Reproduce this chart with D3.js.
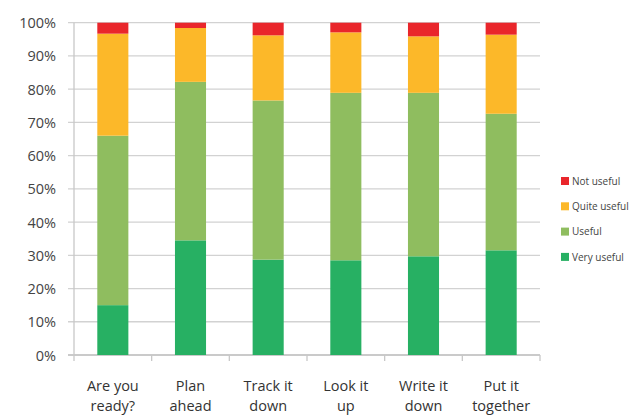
<!DOCTYPE html>
<html><head><meta charset="utf-8">
<script src="https://cdn.jsdelivr.net/npm/d3@7"></script>
<style>body{margin:0;background:#fff}svg{display:block}</style>
</head><body>
<script>
const categories = [["Are you","ready?"],["Plan","ahead"],["Track it","down"],["Look it","up"],["Write it","down"],["Put it","together"]];
const seriesNames = ["Very useful","Useful","Quite useful","Not useful"];
const veryUseful = [15, 34.5, 28.7, 28.5, 29.7, 31.5];
const useful = [51, 47.7, 47.9, 50.4, 49.2, 41.1];
const quiteUseful = [30.7, 16.2, 19.6, 18.2, 17, 23.8];
const notUseful = [3.3, 1.6, 3.8, 2.9, 4.1, 3.6];
const yTicks = [0,0.1,0.2,0.3,0.4,0.5,0.6,0.7,0.8,0.9,1];
const colors = {"Very useful":"#27b063","Useful":"#8fbd5f","Quite useful":"#fcb829","Not useful":"#e9262b"};

const W=643,H=417, mLeft=74, mRight=540, mTop=22.7, mBottom=355;
const svg=d3.select("body").append("svg").attr("width",W).attr("height",H);
const rows = categories.map((c,i)=>({key:i, "Very useful":veryUseful[i], "Useful":useful[i], "Quite useful":quiteUseful[i], "Not useful":notUseful[i]}));
const x=d3.scaleBand().domain(d3.range(categories.length)).range([mLeft,mRight]).paddingInner(0.6).paddingOuter(0.3);
const xb=d3.scaleBand().domain(d3.range(categories.length)).range([mLeft,mRight]);
const y=d3.scaleLinear().domain([0,1]).range([mBottom,mTop]);

// gridlines
svg.append("g").selectAll("line").data(yTicks).join("line")
 .attr("x1",mLeft-6).attr("x2",mRight).attr("y1",d=>y(d)).attr("y2",d=>y(d))
 .attr("stroke",d=>d===0?"#b8b8b8":"#d2d2d2").attr("stroke-width",1.3);
// y labels
svg.append("g").selectAll("text").data(yTicks).join("text")
 .attr("x",56).attr("y",d=>y(d)+5.5).attr("text-anchor","end")
 .attr("font-family","Open Sans, sans-serif").attr("font-size",14.5).attr("fill","#444")
 .text(d=>d3.format(".0%")(d));
// y axis line
svg.append("line").attr("x1",mLeft).attr("x2",mLeft).attr("y1",mTop).attr("y2",mBottom).attr("stroke","#c8c8c8").attr("stroke-width",1.3);
// x ticks
svg.append("g").selectAll("line").data(d3.range(categories.length+1)).join("line")
 .attr("x1",i=>i<categories.length?xb(i):mRight).attr("x2",i=>i<categories.length?xb(i):mRight)
 .attr("y1",mBottom).attr("y2",mBottom+6).attr("stroke","#c8c8c8").attr("stroke-width",1.3);

const stack=d3.stack().keys(seriesNames)(rows);
svg.append("g").selectAll("g").data(stack).join("g").attr("fill",s=>colors[s.key])
 .selectAll("rect").data(s=>s).join("rect")
 .attr("x",d=>x(d.data.key)).attr("width",x.bandwidth())
 .attr("y",d=>y(d[1]/100)).attr("height",d=>y(d[0]/100)-y(d[1]/100));

// x labels
const xl=svg.append("g").selectAll("text").data(categories).join("text")
 .attr("x",(d,i)=>xb(i)+xb.bandwidth()/2).attr("y",391).attr("text-anchor","middle")
 .attr("font-family","Open Sans, sans-serif").attr("font-size",14.5).attr("fill","#333");
xl.append("tspan").text(d=>d[0]);
xl.append("tspan").attr("x",(d,i)=>xb(i)+xb.bandwidth()/2).attr("dy",20).text(d=>d[1]);

// legend
const legendOrder=["Not useful","Quite useful","Useful","Very useful"];
const lg=svg.append("g").selectAll("g").data(legendOrder).join("g").attr("transform",(d,i)=>`translate(561,${181+i*25.3})`);
lg.append("rect").attr("x",0).attr("y",-4).attr("width",8).attr("height",8).attr("fill",d=>colors[d]);
lg.append("text").attr("x",11).attr("y",3.8).attr("font-family","Open Sans, sans-serif").attr("font-size",10).attr("fill","#444").text(d=>d);
</script>
</body></html>
